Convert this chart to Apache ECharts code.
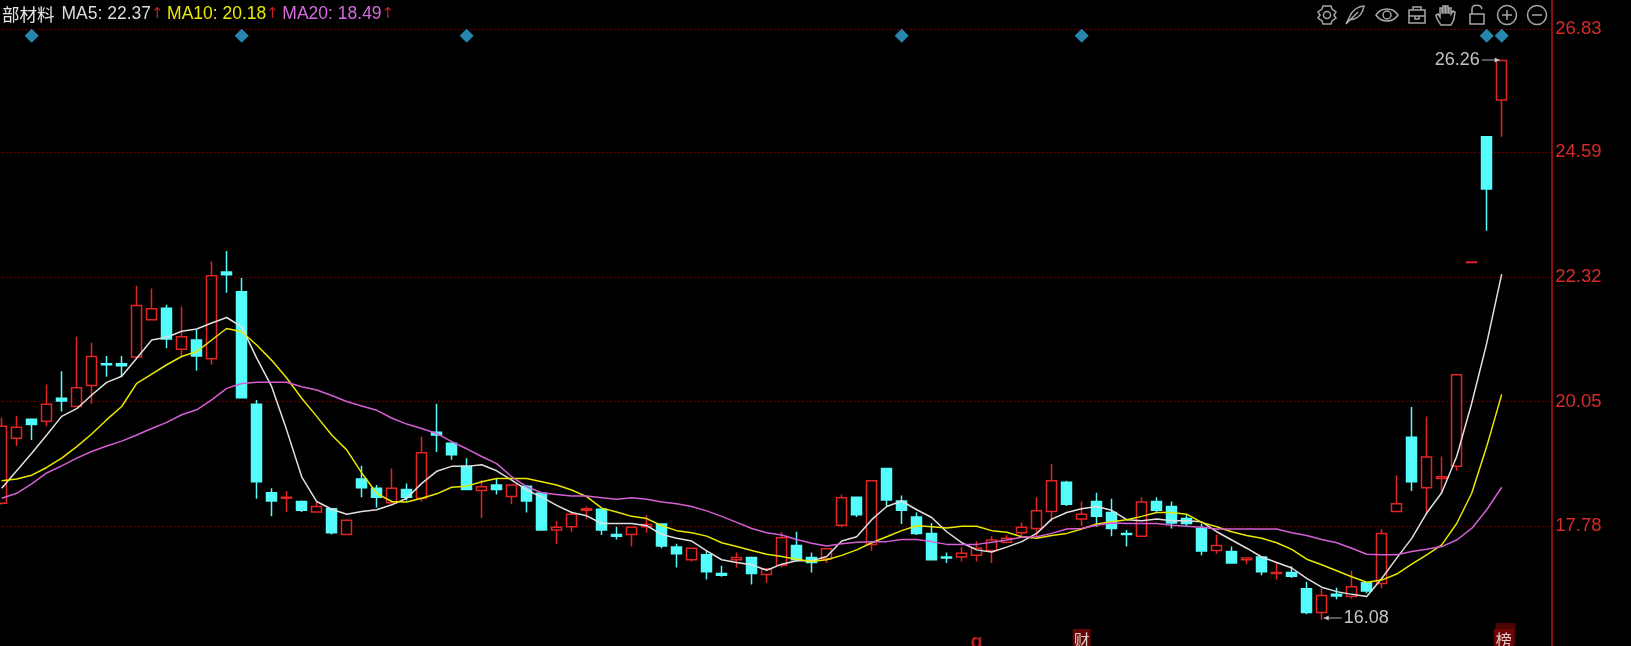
<!DOCTYPE html>
<html>
<head>
<meta charset="utf-8">
<style>html,body{margin:0;padding:0;background:#000;overflow:hidden}#c{width:1631px;height:646px}</style>
<script src="https://cdn.jsdelivr.net/npm/echarts@6/dist/echarts.min.js"></script>
</head>
<body>
<div id="c"></div>
<script>
// [open, close, low, high]
const candles = [
[18.20,19.60,18.17,19.76],[19.38,19.58,19.24,19.79],[19.73,19.63,19.35,19.73],[19.69,20.00,19.60,20.36],[20.11,20.06,19.87,20.60],
[19.96,20.30,19.96,21.23],[20.34,20.87,20.01,21.12],[20.74,20.72,20.50,20.88],[20.74,20.70,20.50,20.88],[20.86,21.80,20.86,22.16],
[21.54,21.74,21.54,22.11],[21.75,21.19,21.02,21.81],[21.00,21.23,20.87,21.78],[21.17,20.88,20.61,21.36],[20.83,22.34,20.72,22.60],
[22.41,22.36,22.03,22.79],[22.05,20.12,20.12,22.30],[20.00,18.59,18.28,20.08],[18.39,18.24,17.96,18.47],[18.29,18.31,18.04,18.42],
[18.23,18.07,18.04,18.25],[18.04,18.14,18.04,18.23],[18.10,17.66,17.63,18.11],[17.63,17.89,17.63,17.89],[18.64,18.48,18.31,18.88],
[18.47,18.31,18.12,18.53],[18.21,18.47,18.20,18.83],[18.45,18.31,18.25,18.56],[18.29,19.12,18.23,19.41],[19.49,19.44,19.13,20.01],
[19.29,19.08,18.99,19.31],[18.87,18.45,18.45,19.02],[18.43,18.50,17.93,18.62],[18.53,18.45,18.36,18.64],[18.32,18.53,18.18,18.53],
[18.51,18.24,18.03,18.53],[18.38,17.71,17.71,18.39],[17.71,17.76,17.46,17.88],[17.77,18.00,17.68,18.05],[18.07,18.10,17.91,18.14],
[18.09,17.71,17.62,18.10],[17.63,17.60,17.54,17.77],[17.63,17.76,17.41,17.77],[17.77,17.81,17.66,17.98],[17.82,17.42,17.38,17.83],
[17.40,17.28,17.03,17.46],[17.17,17.38,17.14,17.39],[17.26,16.95,16.81,17.33],[16.92,16.89,16.86,17.06],[17.17,17.21,17.03,17.30],
[17.21,16.92,16.72,17.23],[16.90,17.00,16.75,17.02],[17.07,17.57,17.03,17.68],[17.43,17.17,17.14,17.68],[17.21,17.12,16.94,17.30],
[17.19,17.37,17.11,17.38],[17.80,18.30,17.76,18.36],[18.31,17.99,17.95,18.31],[17.45,18.61,17.33,18.61],[18.83,18.26,18.14,18.83],
[18.24,18.07,17.82,18.34],[17.95,17.65,17.62,18.03],[17.65,17.17,17.17,17.84],[17.22,17.20,17.11,17.30],[17.22,17.29,17.14,17.40],
[17.25,17.38,17.14,17.51],[17.34,17.53,17.11,17.60],[17.49,17.56,17.47,17.62],[17.66,17.76,17.59,17.85],[17.74,18.06,17.59,18.31],
[18.05,18.61,17.86,18.92],[18.58,18.18,18.15,18.61],[17.91,18.00,17.79,18.23],[18.23,17.96,17.77,18.39],[18.03,17.74,17.60,18.28],
[17.65,17.63,17.41,17.71],[17.60,18.22,17.60,18.31],[18.23,18.07,18.03,18.31],[18.14,17.84,17.74,18.23],[17.92,17.83,17.79,17.99],
[17.74,17.33,17.25,17.83],[17.34,17.43,17.28,17.63],[17.32,17.11,17.11,17.41],[17.17,17.20,17.09,17.20],[17.22,16.95,16.89,17.23],
[16.92,16.94,16.81,17.12],[16.94,16.87,16.84,17.05],[16.64,16.21,16.18,16.77],[16.21,16.52,16.08,16.64],[16.54,16.51,16.45,16.66],
[16.50,16.68,16.46,16.97],[16.75,16.60,16.56,16.77],[16.74,17.65,16.65,17.73],[18.05,18.19,18.05,18.71],[19.40,18.59,18.42,19.95],
[18.48,19.04,17.99,19.78],[18.65,18.68,18.38,19.05],[18.87,20.54,18.79,20.54],[22.58,22.59,22.58,22.59],[24.87,23.92,23.16,24.87],
[25.54,26.26,24.87,26.26]
];
const ma5 = [18.47,18.79,19.11,19.44,19.78,19.92,20.17,20.40,20.51,20.84,21.17,21.22,21.33,21.37,21.48,21.58,21.41,20.84,20.32,19.53,18.68,18.23,18.09,18.00,18.05,18.08,18.17,
18.29,18.56,18.78,18.87,18.87,18.90,18.79,18.62,18.44,18.31,18.16,18.03,17.97,17.83,17.83,17.83,17.79,17.63,17.56,17.51,17.33,17.17,17.12,17.08,16.98,17.09,17.15,
17.15,17.23,17.51,17.59,17.90,18.14,18.24,18.08,17.94,17.68,17.48,17.35,17.31,17.40,17.50,17.65,17.91,18.03,18.10,18.14,18.07,17.90,17.88,17.91,17.88,17.88,
17.86,17.68,17.53,17.38,17.22,17.12,17.02,16.83,16.67,16.59,16.54,16.50,16.83,17.20,17.56,18.02,18.39,19.05,20.02,21.11,22.37];
const ma10 = [18.61,18.64,18.71,18.85,19.02,19.23,19.46,19.72,19.96,20.38,20.55,20.72,20.87,20.96,21.17,21.38,21.32,21.08,20.80,20.48,20.11,19.78,19.44,19.17,18.75,18.38,18.23,
18.22,18.29,18.37,18.49,18.51,18.59,18.65,18.65,18.65,18.59,18.53,18.44,18.32,18.11,18.04,17.96,17.92,17.79,17.70,17.66,17.60,17.48,17.41,17.34,17.27,17.23,17.18,
17.14,17.17,17.25,17.35,17.48,17.59,17.70,17.79,17.77,17.75,17.78,17.78,17.70,17.67,17.59,17.56,17.61,17.65,17.73,17.82,17.86,17.90,17.96,18.03,18.03,18.00,
17.85,17.77,17.68,17.61,17.56,17.48,17.36,17.18,17.08,16.97,16.86,16.76,16.80,16.91,17.09,17.26,17.44,17.83,18.38,19.23,20.18];
const ma20 = [18.29,18.38,18.55,18.75,18.88,19.02,19.14,19.24,19.33,19.44,19.56,19.67,19.81,19.90,20.08,20.29,20.38,20.40,20.40,20.40,20.32,20.26,20.16,20.05,19.97,19.89,19.75,
19.64,19.56,19.47,19.32,19.19,19.05,18.92,18.68,18.50,18.39,18.36,18.33,18.33,18.30,18.27,18.30,18.27,18.22,18.19,18.14,18.06,17.96,17.85,17.74,17.66,17.62,17.54,
17.47,17.42,17.46,17.49,17.50,17.50,17.54,17.54,17.50,17.45,17.45,17.45,17.49,17.53,17.58,17.59,17.65,17.73,17.74,17.80,17.84,17.83,17.83,17.83,17.80,17.78,
17.76,17.73,17.73,17.73,17.73,17.73,17.66,17.61,17.54,17.48,17.38,17.27,17.26,17.26,17.32,17.36,17.41,17.53,17.74,18.08,18.49];
const yTicks = [17.78, 20.05, 22.32, 24.59, 26.83];
const diamondIndex = [2, 16, 31, 60, 72, 99, 100];
const diamondPrice = 26.71;
const tagIndex = [65, 72, 100];
const tagText = ['g', '财', '榜'];
const tagPrice = 15.71;
const notes = [[100, 26.26, '26.26', -1], [88, 16.08, '16.08', 1]];
const stockName = '部材料';
const maLabels = ['MA5: 22.37', 'MA10: 20.18', 'MA20: 18.49'];
const categories = Array.from({length: 104}, (_, i) => String(i + 1));

const RED = '#e12424', CYAN = '#54fcfc', GRID = '#a01010';
const WHITE = '#e0e0e0', YELLOW = '#e8e800', PURPLE = '#d45fd4';

const iconPaths = [
  {x: 1327, d: 'M-4,-9 L4,-9 L5,-6 L9,-3 L7,0 L9,3 L5,6 L4,9 L-4,9 L-5,6 L-9,3 L-7,0 L-9,-3 L-5,-6 Z', r: 3.5},
  {x: 1355, d: 'M-9,9 L-5,1 C-3,-5 4,-9 9,-9 C8,-3 5,2 -1,4 L-6,5 M-9,9 L3,-3'},
  {x: 1387, d: 'M-11,0 C-6,-8 6,-8 11,0 C6,8 -6,8 -11,0 Z', r: 4},
  {x: 1417, d: 'M-8,-5 H8 V8 H-8 Z M-4,-5 V-8 H4 V-5 M-8,1 H8 M-2,1 V4 H2 V1'},
  {x: 1446, d: 'M-5,10 C-8,6 -10,3 -10,0 L-8,-1 L-6,2 L-6,-7 L-4,-7 L-4,-2 L-3,-2 L-3,-9 L-1,-9 L-1,-2 L0,-2 L0,-9 L2,-9 L2,-2 L3,-2 L3,-7 L5,-7 L5,-1 L7,-4 L9,-3 L8,4 C7,7 6,8 5,10 Z'},
  {x: 1477, d: 'M-7,-1 H7 V9 H-7 Z M-5,-1 V-6 C-5,-11 4,-11 5,-6'},
  {x: 1507, d: 'M-5,0 H5 M0,-5 V5', r: 9.5},
  {x: 1537, d: 'M-5,0 H5', r: 9.5}
];

const maLine = (name, data, color) => ({
  name, type: 'line', data, symbol: 'none', z: 5, silent: true,
  lineStyle: {color, width: 1.5}, clip: false
});

const chart = echarts.init(document.getElementById('c'), null, {renderer: 'canvas'});
const rt = (color, fam) => ({fontFamily: fam || 'Liberation Sans', fontSize: 17.5, fontWeight: 'normal', color});
chart.setOption({
  animation: false,
  backgroundColor: '#000',
  title: {
    left: 2, top: 5, padding: 0,
    textStyle: {
      fontSize: 17.5, fontWeight: 'normal', fontFamily: 'Liberation Sans', color: WHITE,
      rich: {
        n: Object.assign(rt('#e6e6e6', 'Noto Sans CJK SC'), {padding: [0, 7, 0, 0]}),
        a: rt('#dcdcdc'),
        b: rt(YELLOW),
        c: rt('#d66be0'),
        u: {fontFamily: 'DejaVu Sans', fontSize: 15, fontWeight: 'normal', color: '#c42020', padding: [0, 3.5, 0, 0]}
      }
    },
    text: `{n|${stockName}}{a|${maLabels[0]}}{u|↑}{b|${maLabels[1]}}{u|↑}{c|${maLabels[2]}}{u|↑}`
  },
  grid: {left: -5.8, top: 0, width: 1560, height: 646, containLabel: false, outerBoundsMode: 'none'},
  xAxis: {type: 'category', data: categories, boundaryGap: true, show: false},
  yAxis: {
    type: 'value', position: 'right', min: 15.60, max: 27.36, offset: -2, scale: true,
    splitLine: {show: false},
    axisLine: {show: true, onZero: false, lineStyle: {color: '#8a0c0c', width: 2}},
    axisTick: {show: false, customValues: yTicks},
    axisLabel: {
      customValues: yTicks, margin: 3, color: '#d92a2a', fontSize: 18.5, padding: [7, 0, 0, 0],
      fontFamily: 'Liberation Sans', formatter: v => v.toFixed(2),
      showMinLabel: true, showMaxLabel: true
    }
  },
  series: [
    {
      name: 'grid', type: 'line', data: [], z: 1, silent: true,
      markLine: {
        silent: true, symbol: 'none', animation: false, label: {show: false}, z: 1,
        lineStyle: {color: GRID, type: [1, 3], width: 1},
        data: yTicks.map(v => ({yAxis: v}))
      }
    },
    {
      name: 'K', type: 'candlestick', data: candles, z: 3, barWidth: 10, silent: true, clip: false,
      itemStyle: {color: '#000', color0: CYAN, borderColor: RED, borderColor0: CYAN, borderWidth: 1.5}
    },
    maLine('MA5', ma5, WHITE),
    maLine('MA10', ma10, YELLOW),
    maLine('MA20', ma20, PURPLE),
    {
      name: 'marks', type: 'scatter', z: 6, silent: true, symbol: 'diamond', symbolSize: [14, 14],
      itemStyle: {color: '#2fa8d8'},
      data: diamondIndex.map(i => [i, diamondPrice])
    },
    {
      name: 'tags', type: 'scatter', z: 7, silent: true, symbol: 'rect', clip: false,
      data: [
        {value: [tagIndex[2], tagPrice], symbolSize: [20, 22], symbolOffset: [4, -6], itemStyle: {color: '#5e0505'}, label: {show: false}},
        {value: [tagIndex[0], tagPrice], symbolSize: [1, 1], itemStyle: {color: '#000'},
          label: {show: true, position: 'inside', formatter: tagText[0], color: RED, fontSize: 20, fontWeight: 'bold', offset: [0, 3], fontFamily: 'Liberation Sans'}},
        {value: [tagIndex[1], tagPrice], symbolSize: [18, 22], itemStyle: {color: '#7a0707'},
          label: {show: true, position: 'inside', formatter: tagText[1], color: '#fff', fontSize: 16, fontFamily: 'Noto Sans CJK SC'}},
        {value: [tagIndex[2], tagPrice], symbolSize: [20, 22], symbolOffset: [2, 0], itemStyle: {color: '#7a0707'},
          label: {show: true, position: 'inside', formatter: tagText[2], color: '#fff', fontSize: 16, fontFamily: 'Noto Sans CJK SC'}}
      ]
    },
    {
      name: 'notes', type: 'custom', z: 8, silent: true, clip: false,
      data: notes,
      renderItem(params, api) {
        const pt = api.coord([api.value(0), api.value(1)]);
        const dir = api.value(3);
        const y = Math.round(pt[1]) - (dir > 0 ? 2 : 0);
        const x0 = pt[0] + dir * 2, x1 = pt[0] + dir * 20;
        return {type: 'group', children: [
          {type: 'line', shape: {x1: x0, y1: y, x2: x1, y2: y}, style: {stroke: '#b0b0b0', lineWidth: 1}},
          {type: 'polygon', shape: {points: [[x0, y], [x0 + dir * 5, y - 2.5], [x0 + dir * 5, y + 2.5]]}, style: {fill: '#c8c8c8'}},
          {type: 'text', x: pt[0] + dir * 22, y, style: {
            text: notes[params.dataIndex][2], fill: '#c4c4c4', font: '18px "Liberation Sans"',
            align: dir > 0 ? 'left' : 'right', verticalAlign: 'middle'}}
        ]};
      }
    },
    {
      name: 'toolbar', type: 'custom', coordinateSystem: 'none', z: 9, silent: true,
      data: iconPaths.map((_, i) => i),
      renderItem(params) {
        const ic = iconPaths[params.dataIndex];
        const style = {fill: 'none', stroke: '#a6a6a6', lineWidth: 1.5};
        const children = [{type: 'path', shape: {pathData: ic.d}, style}];
        if (ic.r) children.push({type: 'circle', shape: {cx: 0, cy: 0, r: ic.r}, style});
        return {type: 'group', x: ic.x, y: 15, children};
      }
    }
  ]
});
</script>
</body>
</html>
